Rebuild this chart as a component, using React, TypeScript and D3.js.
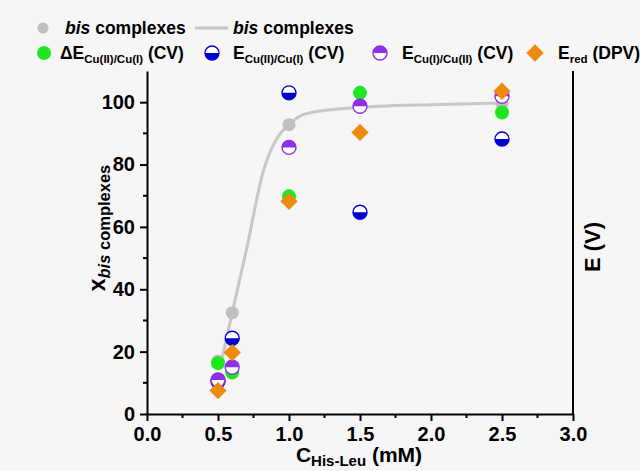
import { useEffect, useRef } from 'react';
import * as d3 from 'd3';

// concentrations C(His-Leu), mM
const conc = [0.5, 0.6, 1.0, 1.5, 2.5];

// mole fraction of bis complexes (gray dots)
const bisPoints = [17, 32.5, 92.8, 98.3, 99.5];
// fitted curve
const fitX = [0.53, 0.6, 0.7, 0.82, 0.91, 1.0, 1.1, 1.29, 1.43, 1.64, 2.0, 2.48];
const fitY = [18, 32.5, 52.6, 78, 88, 92.8, 96, 97.6, 98.1, 98.7, 99.2, 99.7];

const deltaE = [16.3, 13.3, 69.8, 103, 96.7];
const eCu21 = [10.5, 24.3, 103, 64.7, 88.2];
const eCu12 = [10.9, 15, 85.5, 98.7, 101.9];
const eRed = [7.5, 19.7, 68.2, 90.3, 103.5];

const xTicks = [0, 0.5, 1.0, 1.5, 2.0, 2.5, 3.0];
const xMinor = [0.25, 0.75, 1.25, 1.75, 2.25, 2.75];
const yTicks = [0, 20, 40, 60, 80, 100];
const yMinor = [10, 30, 50, 70, 90];

const GREEN = '#1fe61f';
const BLUE = '#0000cc';
const PURPLE = '#8e2ee6';
const ORANGE = '#ee8a0c';
const GRAY = '#c0c0c0';
const FONT = '"Liberation Sans", Arial, sans-serif';

const App = () => {
    const svgRef = useRef(null);

    useEffect(() => {
        const svg = d3.select(svgRef.current);
        svg.selectAll('*').remove();

        svg.append('rect').attr('width', 640).attr('height', 471).attr('fill', '#f6f6f6');

        const x = d3.scaleLinear().domain([0, 3]).range([147, 573]);
        const y = d3.scaleLinear().domain([0, 110]).range([414, 71]);

        const r = 7;
        // half discs: bottom half / top half
        const halfBottom = `M${-r},0A${r},${r} 0 0 0 ${r},0Z`;
        const halfTop = `M${-r},0A${r},${r} 0 0 1 ${r},0Z`;
        const diamond = d3.symbol(d3.symbolSquare, 150)();

        const dot = (g, cx, cy, color, rad) =>
            g.append('circle').attr('cx', cx).attr('cy', cy).attr('r', rad).attr('fill', color);
        const half = (g, cx, cy, color, path) => {
            g.append('circle').attr('cx', cx).attr('cy', cy).attr('r', r)
                .attr('fill', '#fff').attr('stroke', color).attr('stroke-width', 1.4);
            g.append('path').attr('d', path).attr('transform', `translate(${cx},${cy})`).attr('fill', color);
        };
        const dia = (g, cx, cy) =>
            g.append('path').attr('d', diamond).attr('transform', `translate(${cx},${cy}) rotate(45)`).attr('fill', ORANGE);

        const axisStyle = (g) => {
            g.selectAll('path.domain').attr('stroke', '#000').attr('stroke-width', 2);
            g.selectAll('line').attr('stroke', '#000').attr('stroke-width', 2);
            g.selectAll('text').attr('font-family', FONT).attr('font-weight', 'bold')
                .attr('font-size', 20).attr('fill', '#000');
        };

        const xAxis = svg.append('g').attr('transform', 'translate(0,414)')
            .call(d3.axisBottom(x).tickValues(xTicks).tickFormat(d3.format('.1f')).tickSize(7).tickSizeOuter(0).tickPadding(6));
        axisStyle(xAxis);
        xAxis.selectAll('.minor').data(xMinor).enter().append('line').attr('class', 'minor')
            .attr('x1', d => x(d)).attr('x2', d => x(d)).attr('y1', 0).attr('y2', 4)
            .attr('stroke', '#000').attr('stroke-width', 2);

        const yAxis = svg.append('g').attr('transform', 'translate(147,0)')
            .call(d3.axisLeft(y).tickValues(yTicks).tickSize(7).tickSizeOuter(0).tickPadding(5));
        axisStyle(yAxis);
        yAxis.selectAll('.minor').data(yMinor).enter().append('line').attr('class', 'minor')
            .attr('y1', d => y(d)).attr('y2', d => y(d)).attr('x1', 0).attr('x2', -4)
            .attr('stroke', '#000').attr('stroke-width', 2);

        // right axis, no ticks
        svg.append('line').attr('x1', x(3)).attr('x2', x(3)).attr('y1', y(110)).attr('y2', y(0))
            .attr('stroke', '#000').attr('stroke-width', 2);

        // fit curve
        const line = d3.line().x(d => x(d[0])).y(d => y(d[1])).curve(d3.curveMonotoneX);
        svg.append('path').datum(fitX.map((v, i) => [v, fitY[i]]))
            .attr('d', line).attr('fill', 'none').attr('stroke', '#c8c8c8').attr('stroke-width', 3);

        const pts = svg.append('g');
        conc.forEach((c, i) => dot(pts, x(c), y(bisPoints[i]), GRAY, 6.5));
        conc.forEach((c, i) => dot(pts, x(c), y(deltaE[i]), GREEN, r));
        conc.forEach((c, i) => half(pts, x(c), y(eCu21[i]), BLUE, halfBottom));
        conc.forEach((c, i) => half(pts, x(c), y(eCu12[i]), PURPLE, halfTop));
        conc.forEach((c, i) => dia(pts, x(c), y(eRed[i])));

        // axis titles
        const xt = svg.append('text').attr('x', 359).attr('y', 462).attr('text-anchor', 'middle')
            .attr('font-family', FONT).attr('font-weight', 'bold').attr('font-size', 21);
        xt.append('tspan').text('C');
        xt.append('tspan').attr('font-size', 15).attr('dy', 4).text('His-Leu');
        xt.append('tspan').attr('dy', -4).text(' (mM)');

        const yt = svg.append('text').attr('transform', 'translate(105,228) rotate(-90)').attr('text-anchor', 'middle')
            .attr('font-family', FONT).attr('font-weight', 'bold').attr('font-size', 23);
        yt.append('tspan').text('x');
        yt.append('tspan').attr('font-size', 16.5).attr('dy', 5).attr('font-style', 'italic').text('bis');
        yt.append('tspan').attr('font-size', 16.5).text(' complexes');

        svg.append('text').attr('transform', 'translate(600,247) rotate(-90)').attr('text-anchor', 'middle')
            .attr('font-family', FONT).attr('font-weight', 'bold').attr('font-size', 22).text('E (V)');

        // legend
        const lg = svg.append('g').attr('font-family', FONT).attr('font-weight', 'bold').attr('font-size', 17.5);
        const bisLabel = (tx) => {
            const t = lg.append('text').attr('x', tx).attr('y', 34);
            t.append('tspan').attr('font-style', 'italic').text('bis');
            t.append('tspan').text(' complexes');
        };
        dot(lg, 43, 28, GRAY, 5.5);
        bisLabel(65);
        lg.append('line').attr('x1', 195).attr('x2', 228).attr('y1', 28).attr('y2', 28)
            .attr('stroke', '#c8c8c8').attr('stroke-width', 3);
        bisLabel(233);

        const subLabel = (tx, main, sub, tail) => {
            const t = lg.append('text').attr('x', tx).attr('y', 59);
            t.append('tspan').text(main);
            t.append('tspan').attr('font-size', 11.5).attr('dy', 4).text(sub);
            t.append('tspan').attr('dy', -4).text(tail);
        };
        dot(lg, 44, 53, GREEN, 7);
        subLabel(60, 'ΔE', 'Cu(II)/Cu(I)', ' (CV)');
        half(lg, 212, 53, BLUE, halfBottom);
        subLabel(233, 'E', 'Cu(II)/Cu(I)', ' (CV)');
        half(lg, 380, 53, PURPLE, halfTop);
        subLabel(402, 'E', 'Cu(I)/Cu(II)', ' (CV)');
        dia(lg, 535, 53);
        subLabel(558, 'E', 'red', ' (DPV)');
    }, []);

    return (
        <svg ref={svgRef} width={640} height={471}
            style={{ position: 'absolute', left: 0, top: 0, display: 'block' }} />
    );
};

export default App;
